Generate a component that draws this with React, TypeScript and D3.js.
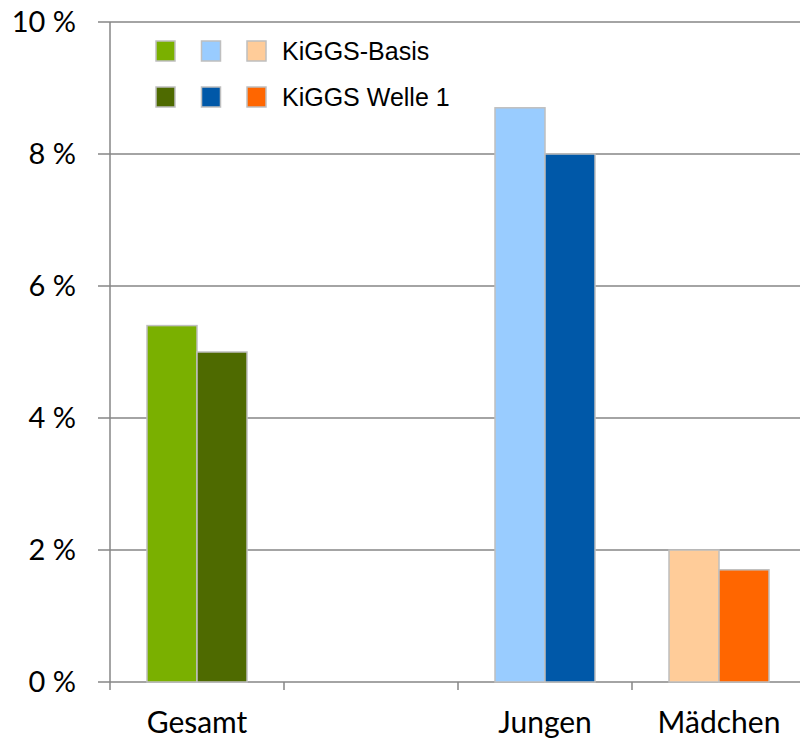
import React from "react";
import * as d3 from "d3";

const categories = ["Gesamt", "", "Jungen", "Mädchen"];
const basisValues: (number | null)[] = [5.4, null, 8.7, 2.0];
const welleValues: (number | null)[] = [5.0, null, 8.0, 1.7];
const basisColors = ["#7AB000", "#7AB000", "#99CCFF", "#FFCC99"];
const welleColors = ["#4E6A00", "#4E6A00", "#0058A8", "#FF6600"];
const yTicks = [0, 2, 4, 6, 8, 10];
const legendLabels = ["KiGGS-Basis", "KiGGS Welle 1"];
const legendColors = [
  ["#7AB000", "#99CCFF", "#FFCC99"],
  ["#4E6A00", "#0058A8", "#FF6600"],
];

const W = 801;
const H = 741;

export default function App() {
  const x = d3.scaleBand<string>().domain(categories.map((c, i) => String(i))).range([110, 806]).paddingInner(0).paddingOuter(0);
  const y = d3.scaleLinear().domain([0, 10]).range([682, 22]);
  const barW = 50;
  const tickFont = "Lato, 'Open Sans', sans-serif";
  const legendFont = "'Liberation Sans', Arial, sans-serif";

  return (
    <svg width={W} height={H} style={{ position: "absolute", left: 0, top: 0, background: "#fff" }}>
      {yTicks.map((t) => (
        <g key={t}>
          <line x1={98} x2={800} y1={y(t)} y2={y(t)} stroke="#868686" strokeWidth={1.5} />
          <text x={76} y={y(t)} dy="0.36em" textAnchor="end" fontFamily={tickFont} fontSize={29} fill="#000">
            {t} %
          </text>
        </g>
      ))}
      <line x1={110} x2={110} y1={y(10)} y2={y(0) + 8} stroke="#868686" strokeWidth={1.5} />
      {categories.map((c, i) => {
        const x0 = x(String(i))!;
        const cx = x0 + x.bandwidth() / 2;
        const b = basisValues[i];
        const w = welleValues[i];
        return (
          <g key={i}>
            {i > 0 && <line x1={x0} x2={x0} y1={y(0)} y2={y(0) + 8} stroke="#868686" strokeWidth={1.5} />}
            {b != null && (
              <rect x={cx - barW} y={y(b)} width={barW} height={y(0) - y(b)} fill={basisColors[i]} stroke="#BFBFBF" strokeWidth={1.5} />
            )}
            {w != null && (
              <rect x={cx} y={y(w)} width={barW} height={y(0) - y(w)} fill={welleColors[i]} stroke="#BFBFBF" strokeWidth={1.5} />
            )}
            {c && (
              <text x={cx} y={733} textAnchor="middle" fontFamily={tickFont} fontSize={30} fill="#000">
                {c}
              </text>
            )}
          </g>
        );
      })}
      {legendLabels.map((lab, r) => (
        <g key={lab} transform={`translate(0, ${40 + r * 46})`}>
          {legendColors[r].map((col, k) => (
            <rect key={k} x={156 + k * 45.5} y={1} width={19} height={20} fill={col} stroke="#BFBFBF" strokeWidth={1.5} />
          ))}
          <text x={282} y={20} fontFamily={legendFont} fontSize={25} fill="#000">
            {lab}
          </text>
        </g>
      ))}
    </svg>
  );
}
